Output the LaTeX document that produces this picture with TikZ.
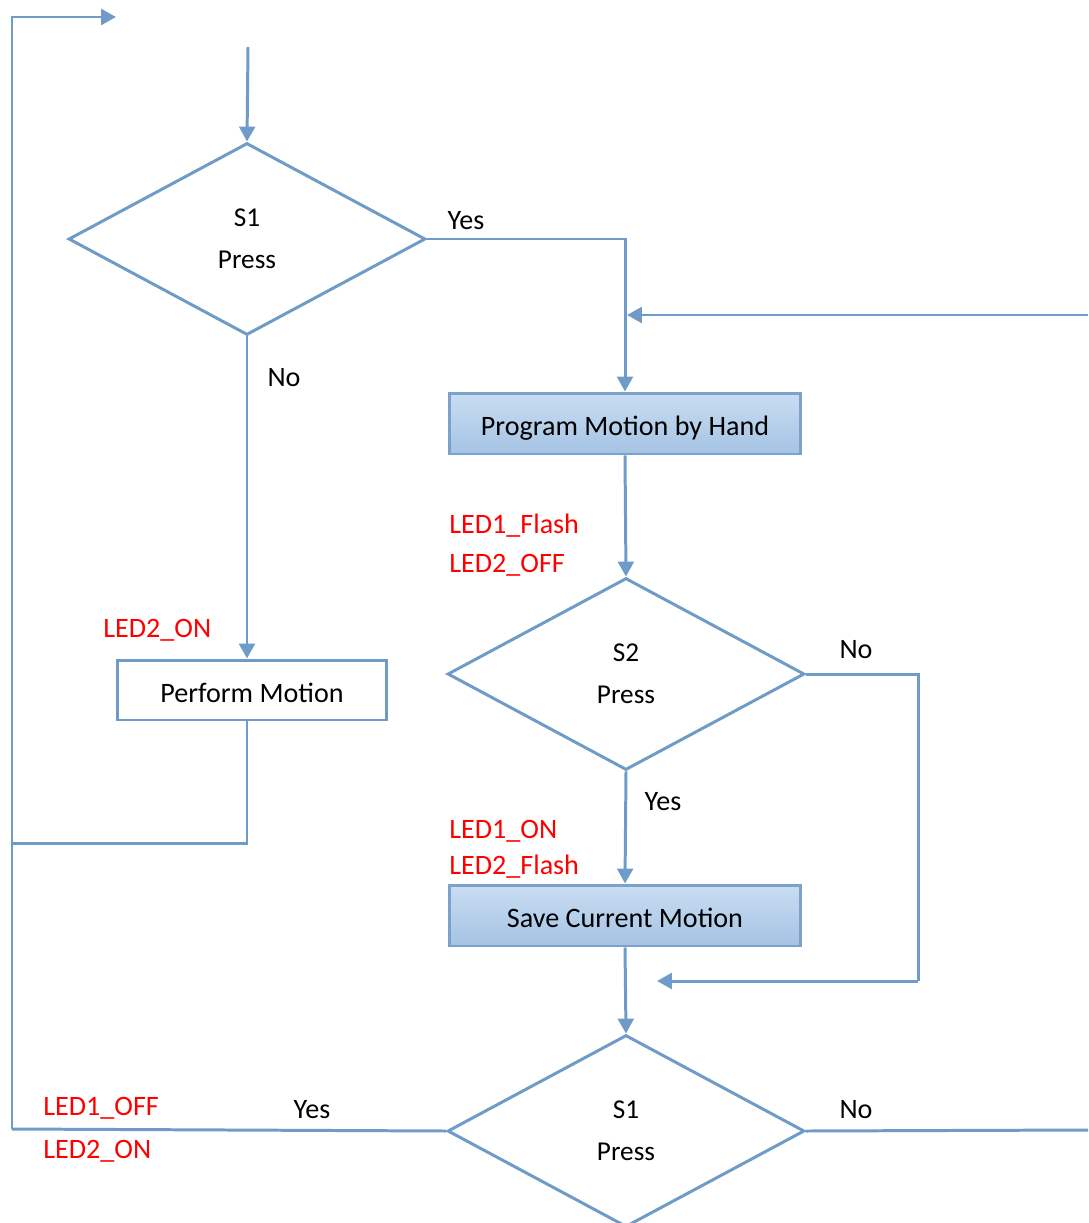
\documentclass[tikz,border=0pt]{standalone}
\usepackage{fontspec}
\setmainfont{Carlito}
\usetikzlibrary{positioning, arrows.meta, calc, shapes.geometric}
\definecolor{flowline}{HTML}{6F9BC8}
\definecolor{boxedge}{HTML}{7CA2CC}
\definecolor{boxtop}{HTML}{C9DDF2}
\definecolor{boxbot}{HTML}{A5C3E4}
\definecolor{ledred}{HTML}{FF0000}

\begin{document}
\begin{tikzpicture}[
    x=0.02cm, y=-0.02cm,
    font=\fontsize{16}{19}\selectfont,
    decision/.style={
        diamond, draw=flowline, line width=1.7pt, aspect=1.86,
        minimum width=7.14cm, minimum height=3.84cm, inner sep=0pt,
        align=center, font=\fontsize{15.5}{24}\selectfont
    },
    plainbox/.style={
        rectangle, draw=flowline, line width=1.7pt, fill=white,
        minimum width=5.4cm, minimum height=1.2cm, inner sep=0pt,
        text height=14pt, text depth=0pt
    },
    shadedbox/.style={
        rectangle, draw=boxedge, line width=1.7pt,
        top color=boxtop, bottom color=boxbot,
        minimum width=7.04cm, minimum height=1.22cm, inner sep=0pt,
        text height=14pt, text depth=0pt
    },
    flow/.style={
        draw=flowline, line width=1.7pt,
        -{Triangle[length=8.5pt, width=9pt]}
    },
    link/.style={
        draw=flowline, line width=1.7pt
    },
    ledlbl/.style={
        color=ledred, anchor=west, inner sep=0pt
    },
    anslbl/.style={
        inner sep=0pt
    }
]

\useasboundingbox (0,0) rectangle (1088,1223);
\clip (0,0) rectangle (1088,1223);

% Loose ends of the connectors
\coordinate (start) at (248,47);
\coordinate (lefttop) at (12,17);
\coordinate (toparrow) at (116,17);
\coordinate (leftmid) at (12,843);
\coordinate (leftbot) at (12,1129);
\coordinate (rightin) at (1088,315);
\coordinate (rightjoin) at (627,315);
\coordinate (nocorner) at (918,981);
\coordinate (nojoin) at (657,981);
\coordinate (rightout) at (1088,1130);

% -- Nodes --
\node[decision] (s1) at (247,239) {S1\\Press};
\node[plainbox] (perform) at (252,690) {Perform Motion};
\node[shadedbox] (program) at (625,423.5) {Program Motion by Hand};
\node[decision] (s2) at (626,674) {S2\\Press};
\node[shadedbox] (save) at (625,915.5) {Save Current Motion};
\node[decision] (s3) at (626,1131) {S1\\Press};

% -- Connectors --
\draw[flow] (start) -- (s1.north);
\draw[flow] (s1.east) -| (program.north);
\draw[flow] (rightin) -- (rightjoin);
\draw[flow] (s1.south) -- (s1.south |- perform.north);
\draw[link] (s1.south |- perform.south) |- (leftmid);
\draw[flow] (leftbot) -- (lefttop) -- (toparrow);
\draw[flow] (program.south) -- (s2.north);
\draw[link] (s2.east) -| (nocorner);
\draw[flow] (nocorner) -- (nojoin);
\draw[flow] (s2.south) -- (save.north);
\draw[flow] (save.south) -- (s3.north);
\draw[link] (s3.west) -- (leftbot);
\draw[link] (s3.east) -- (rightout);

% -- Yes / No labels --
\node[anslbl] (yes1) at (466,221) {Yes};
\node[anslbl] (no1) at (284,378) {No};
\node[anslbl] (no2) at (856,650) {No};
\node[anslbl] (yes2) at (663,802) {Yes};
\node[anslbl] (yes3) at (312,1110) {Yes};
\node[anslbl] (no3) at (856,1110) {No};

% -- LED states --
\node[ledlbl] (led2on) at (103,630) {LED2\_ON};
\node[ledlbl] (led1flash) at (449,526) {LED1\_Flash};
\node[ledlbl] (led2off) at (449,565) {LED2\_OFF};
\node[ledlbl] (led1on) at (449,831) {LED1\_ON};
\node[ledlbl] (led2flash) at (449,867) {LED2\_Flash};
\node[ledlbl] (led1off) at (43,1108) {LED1\_OFF};
\node[ledlbl] (led2onb) at (43,1151) {LED2\_ON};

\end{tikzpicture}
\end{document}
